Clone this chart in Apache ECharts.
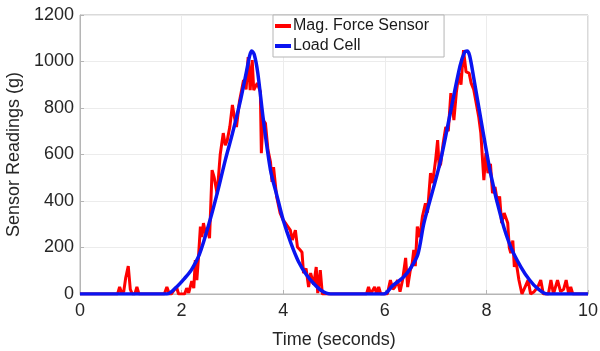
<!DOCTYPE html>
<html lang="en">
<head>
<meta charset="UTF-8">
<title>Sensor Readings</title>
<script src="https://cdn.jsdelivr.net/npm/echarts@6/dist/echarts.min.js"></script>
<style>
  html, body { margin: 0; padding: 0; background: #fff; }
</style>
</head>
<body>
<div id="main" style="width:600px;height:351px;"></div>
<script type="text/javascript">
// Mag. force sensor (red), time in seconds / reading in g
var magTime = [0,0.74,0.78,0.82,0.86,0.9,0.95,0.99,1.03,1.08,1.12,1.16,1.66,1.71,1.76,1.8,1.86,1.9,1.94,2.06,2.1,2.14,2.2,2.24,2.27,2.3,2.33,2.37,2.4,2.43,2.47,2.5,2.55,2.6,2.64,2.7,2.76,2.82,2.86,2.9,2.95,3.0,3.04,3.08,3.14,3.22,3.27,3.31,3.35,3.39,3.42,3.49,3.55,3.57,3.6,3.65,3.7,3.75,3.78,3.81,3.87,3.94,4.0,4.06,4.14,4.18,4.24,4.28,4.33,4.37,4.4,4.45,4.5,4.54,4.6,4.65,4.68,4.73,4.77,5.64,5.68,5.72,5.8,5.84,5.88,5.92,6.05,6.11,6.16,6.2,6.25,6.3,6.35,6.41,6.45,6.5,6.54,6.57,6.6,6.64,6.69,6.74,6.8,6.84,6.9,6.94,7.0,7.04,7.07,7.1,7.15,7.2,7.25,7.3,7.36,7.41,7.46,7.5,7.55,7.6,7.66,7.7,7.75,7.8,7.85,7.89,7.95,7.99,8.03,8.08,8.12,8.17,8.22,8.26,8.3,8.35,8.42,8.45,8.48,8.52,8.55,8.58,8.64,8.7,8.76,8.82,8.87,8.94,9.01,9.07,9.12,9.22,9.27,9.32,9.4,9.46,9.52,9.57,9.62,9.66,9.7,10];
var magValue = [0,0,30,5,10,70,120,20,0,0,30,0,0,30,0,0,20,30,0,0,25,5,55,25,146,60,150,290,245,305,260,283,240,533,503,430,600,692,640,662,720,813,760,718,830,920,880,1019,877,1006,877,907,870,606,748,735,620,568,482,546,420,348,318,300,275,232,275,202,190,180,90,110,30,90,40,116,4,103,0,0,30,0,30,0,30,0,0,60,20,30,60,10,60,155,30,100,133,190,120,290,245,333,390,350,520,477,576,662,546,560,650,718,700,864,748,870,950,900,1049,955,950,907,880,820,760,692,490,606,520,560,434,460,391,420,305,348,305,200,176,230,116,146,60,0,30,60,0,10,30,60,0,0,60,0,60,10,20,60,0,30,0,0];

// Load cell (blue)
var cellTime = [0,1.71,1.9,2.05,2.19,2.35,2.56,2.72,2.86,3.0,3.16,3.28,3.34,3.38,3.43,3.5,3.61,3.75,3.88,4.0,4.15,4.3,4.45,4.6,4.75,4.93,5.98,6.15,6.37,6.51,6.65,6.77,6.95,7.1,7.3,7.48,7.57,7.62,7.67,7.75,7.9,8.09,8.3,8.48,8.68,8.85,9.0,9.2,10];
var cellValue = [0,0,30,65,103,170,318,450,576,690,834,960,1025,1045,1030,950,748,533,420,318,220,140,85,45,15,0,0,35,73,112,170,305,450,576,790,980,1040,1045,1025,930,740,510,320,202,116,60,25,0,0];

var yTicks = [0, 200, 400, 600, 800, 1000, 1200];
var xTicks = [0, 2, 4, 6, 8, 10];

var font = 'Liberation Sans, Arial, sans-serif';

function pairs(t, v) {
    var out = [];
    for (var i = 0; i < t.length; i++) out.push([t[i], v[i]]);
    return out;
}

var myChart = echarts.init(document.getElementById('main'));

var option = {
    animation: false,
    backgroundColor: '#fff',
    grid: {
        left: 80, right: 12, top: 15, bottom: 57,
        containLabel: false,
        outerBoundsMode: 'none',
        show: true, borderColor: '#b5b5b5', borderWidth: 1
    },
    legend: {
        orient: 'vertical',
        left: 273, top: 15,
        backgroundColor: '#fff',
        borderColor: '#b5b5b5', borderWidth: 1,
        padding: [3, 15, 3, 2],
        itemGap: 4,
        itemWidth: 16, itemHeight: 4,
        icon: 'rect',
        textStyle: { fontFamily: font, fontSize: 16, color: '#1a1a1a', padding: [0, 0, 0, -3] },
        data: ['Mag. Force Sensor', 'Load Cell']
    },
    xAxis: {
        type: 'value',
        min: xTicks[0], max: xTicks[xTicks.length - 1], interval: 2,
        name: 'Time (seconds)',
        nameLocation: 'middle', nameGap: 37,
        nameTextStyle: { fontFamily: font, fontSize: 18, color: '#262626' },
        axisLine: { lineStyle: { color: '#b5b5b5' } },
        axisTick: { inside: true, length: 4, lineStyle: { color: '#b5b5b5' } },
        axisLabel: { fontFamily: font, fontSize: 18, color: '#262626', margin: 8 },
        splitLine: { show: true, lineStyle: { color: '#ececec' } }
    },
    yAxis: {
        type: 'value',
        min: yTicks[0], max: yTicks[yTicks.length - 1], interval: 200,
        name: 'Sensor Readings (g)',
        nameLocation: 'middle', nameGap: 52,
        nameTextStyle: { fontFamily: font, fontSize: 18, color: '#262626' },
        axisLine: { show: true, lineStyle: { color: '#b5b5b5' } },
        axisTick: { show: true, inside: true, length: 4, lineStyle: { color: '#b5b5b5' } },
        axisLabel: {
            fontFamily: font, fontSize: 18, color: '#262626', margin: 6,
            formatter: function (v) { return String(v); }
        },
        splitLine: { show: true, lineStyle: { color: '#ececec' } }
    },
    series: [
        {
            name: 'Mag. Force Sensor',
            type: 'line',
            showSymbol: false,
            color: '#ff0000',
            lineStyle: { width: 3, color: '#ff0000' },
            data: pairs(magTime, magValue)
        },
        {
            name: 'Load Cell',
            type: 'line',
            showSymbol: false,
            smooth: 0.3,
            color: '#0a14f0',
            lineStyle: { width: 3.5, color: '#0a14f0' },
            data: pairs(cellTime, cellValue)
        }
    ]
};

myChart.setOption(option);
</script>
</body>
</html>
